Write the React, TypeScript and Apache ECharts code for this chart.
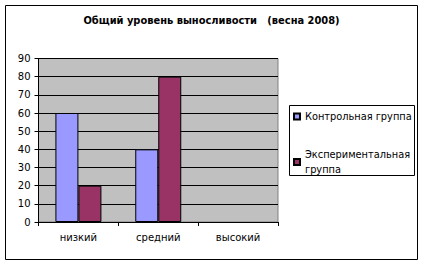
import React, { useEffect, useRef } from "react";
import * as echarts from "echarts";

const title = "Общий уровень выносливости   (весна 2008)";
const categories = ["низкий", "средний", "высокий"];
const seriesNames = ["Контрольная группа", "Экспериментальная группа"];
const controlValues = [60, 40, 0];
const experimentalValues = [20, 80, 0];
const colors = ["#9999FF", "#993366"];

const toData = (values: number[]) =>
  values.map((v) => (v === 0 ? { value: v, itemStyle: { borderWidth: 0 } } : v));

export default function App() {
  const ref = useRef<HTMLDivElement>(null);
  useEffect(() => {
    if (!ref.current) return;
    const chart = echarts.init(ref.current, null, { renderer: "svg" });
    const font = "DejaVu Sans";
    chart.setOption({
      animation: false,
      backgroundColor: "#ffffff",
      graphic: [
        {
          type: "rect",
          shape: { x: 5.5, y: 5.5, width: 412, height: 254 },
          style: { fill: "none", stroke: "#000", lineWidth: 1 },
          z: 100,
        },
        {
          type: "rect",
          shape: { x: 289.5, y: 105.5, width: 125, height: 70 },
          style: { fill: "#fff", stroke: "#000", lineWidth: 1 },
          z: 1,
        },
        {
          type: "text",
          x: 211.5,
          y: 20,
          style: {
            text: title,
            align: "center",
            verticalAlign: "middle",
            fontFamily: font,
            fontSize: 9.9,
            fontWeight: "bold",
            fill: "#000",
          },
        },
      ],
      legend: {
        orient: "vertical",
        left: 293,
        top: 109,
        padding: 0,
        itemWidth: 6,
        itemHeight: 6,
        itemGap: 23,
        icon: "rect",
        z: 5,
        textStyle: { fontFamily: font, fontSize: 9.8, color: "#000", lineHeight: 15 },
        formatter: (name: string) =>
          name === "Экспериментальная группа" ? "Экспериментальная\nгруппа" : name,
        data: seriesNames,
      },
      grid: {
        left: 38.5,
        right: 147,
        top: 58.5,
        bottom: 43,
        show: true,
        backgroundColor: "#C0C0C0",
        borderColor: "#808080",
        borderWidth: 1,
      },
      xAxis: {
        type: "category",
        data: categories,
        axisLine: { lineStyle: { color: "#000" } },
        axisTick: { show: true, length: 4, lineStyle: { color: "#000" } },
        axisLabel: { fontFamily: font, fontSize: 10, color: "#000", margin: 10 },
      },
      yAxis: {
        type: "value",
        min: 0,
        max: 90,
        interval: 10,
        axisLine: { show: true, lineStyle: { color: "#000" } },
        axisTick: { show: true, length: 4, lineStyle: { color: "#000" } },
        axisLabel: { fontFamily: font, fontSize: 10, color: "#000", margin: 8 },
        splitLine: { show: true, lineStyle: { color: "#000", width: 1 } },
      },
      series: [
        {
          name: seriesNames[0],
          type: "bar",
          data: toData(controlValues),
          barWidth: 23,
          barGap: "0%",
          itemStyle: { color: colors[0], borderColor: "#000", borderWidth: 1 },
        },
        {
          name: seriesNames[1],
          type: "bar",
          data: toData(experimentalValues),
          barWidth: 23,
          barGap: "0%",
          itemStyle: { color: colors[1], borderColor: "#000", borderWidth: 1 },
        },
      ],
    });
    return () => chart.dispose();
  }, []);
  return (
    <div
      ref={ref}
      style={{ position: "fixed", left: 0, top: 0, width: 425, height: 265 }}
    />
  );
}
